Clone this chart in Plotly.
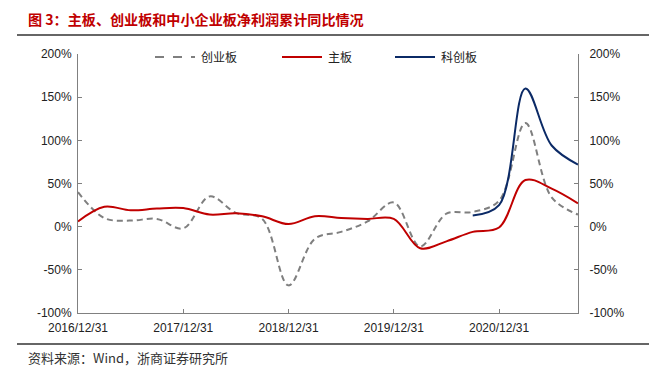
import plotly.graph_objects as go

dates = ["2016/12/31", "2017/03/31", "2017/06/30", "2017/09/30", "2017/12/31",
         "2018/03/31", "2018/06/30", "2018/09/30", "2018/12/31", "2019/03/31",
         "2019/06/30", "2019/09/30", "2019/12/31", "2020/03/31", "2020/06/30",
         "2020/09/30", "2020/12/31", "2021/03/31", "2021/06/30", "2021/09/30"]
chinext = [40, 10, 7, 9, -2, 35, 16, 9, -68, -14, -6, 6, 28, -23, 15, 17, 30, 120, 34, 14]
main_board = [6, 23, 19, 21, 21.5, 14, 15.5, 12, 3, 12, 10, 9, 9, -25, -17, -6, -1, 54, 44, 27]
star_market = [None] * 15 + [13, 25, 160, 94, 72]
series_names = ["创业板", "主板", "科创板"]
tick_labels = ["2016/12/31", "2017/12/31", "2018/12/31", "2019/12/31", "2020/12/31"]
y_ticks = [-100, -50, 0, 50, 100, 150, 200]
y_tick_text = ["-100%", "-50%", "0%", "50%", "100%", "150%", "200%"]

W, H = 649, 370
L, R, T, B = 78, 578, 53.5, 313

def px(x):
    return (x - L) / (R - L)

def py(y):
    return (B - y) / (B - T)

colors = ["#7f7f7f", "#C00000", "#0B2A66"]

fig = go.Figure()
fig.add_trace(go.Scatter(x=dates, y=chinext, name=series_names[0], mode="lines",
                         line=dict(color=colors[0], width=2, dash="6px,4px", shape="spline", smoothing=1)))
fig.add_trace(go.Scatter(x=dates, y=main_board, name=series_names[1], mode="lines",
                         line=dict(color=colors[1], width=2, shape="spline", smoothing=1)))
fig.add_trace(go.Scatter(x=dates, y=star_market, name=series_names[2], mode="lines", yaxis="y2",
                         line=dict(color=colors[2], width=2, shape="spline", smoothing=1)))

axis_font = dict(family="Liberation Sans, Arial, sans-serif", size=12, color="#222")
yax = dict(range=[-100, 200], tickmode="array", tickvals=y_ticks, ticktext=y_tick_text,
           ticks="inside", ticklen=4, tickcolor="#808080", showline=True, linecolor="#808080",
           linewidth=1, showgrid=False, zeroline=False, tickfont=axis_font, fixedrange=True,
           automargin=False)
fig.update_layout(
    width=W, height=H,
    margin=dict(l=L, r=W - R, t=T, b=H - B, autoexpand=False),
    paper_bgcolor="white", plot_bgcolor="white",
    showlegend=False,
    xaxis=dict(type="category", categoryorder="array", categoryarray=dates,
               range=[0, len(dates) - 1], tickmode="array", tickvals=tick_labels,
               ticktext=tick_labels, ticks="inside", ticklen=4, tickcolor="#808080",
               showline=True, linecolor="#808080", linewidth=1, showgrid=False,
               zeroline=False, tickfont=axis_font, tickangle=0, automargin=False,
               ticklabelstandoff=4, fixedrange=True),
    yaxis=dict(yax, ticklabelstandoff=3),
    yaxis2=dict(yax, overlaying="y", side="right", ticklabelstandoff=8),
)

# legend (drawn as decoration)
leg_y = py(56.5)
leg_items = [(155, 195), (282, 322), (395, 435)]
for (x0, x1), name, c, d in zip(leg_items, series_names, colors, ["dash", "solid", "solid"]):
    fig.add_shape(type="line", xref="paper", yref="paper", x0=px(x0), x1=px(x1), y0=leg_y, y1=leg_y,
                  line=dict(color=c, width=2, dash=d))
    fig.add_annotation(text=name, xref="paper", yref="paper", x=px(x1 + 4), y=leg_y,
                       xanchor="left", yanchor="middle", showarrow=False,
                       font=dict(family="Noto Sans CJK SC", size=12, color="#222"))

# title, rules and source
fig.add_annotation(text="<b>图 3：主板、创业板和中小企业板净利润累计同比情况</b>",
                   xref="paper", yref="paper", x=px(26), y=py(18), xanchor="left", yanchor="middle",
                   showarrow=False, font=dict(family="Noto Sans CJK SC", size=14.1, color="#C00000"))
fig.add_shape(type="line", xref="paper", yref="paper", x0=px(17), x1=px(649), y0=py(34.5), y1=py(34.5),
              line=dict(color="#666666", width=2))
fig.add_shape(type="line", xref="paper", yref="paper", x0=px(17), x1=px(649), y0=py(344), y1=py(344),
              line=dict(color="#666666", width=2))
fig.add_annotation(text="资料来源：Wind，浙商证券研究所",
                   xref="paper", yref="paper", x=px(26), y=py(358), xanchor="left", yanchor="middle",
                   showarrow=False, font=dict(family="Noto Sans CJK SC", size=13, color="#333"))

fig.write_html("out.html", post_script="document.body.style.margin='0';",
               config={"displayModeBar": False})
